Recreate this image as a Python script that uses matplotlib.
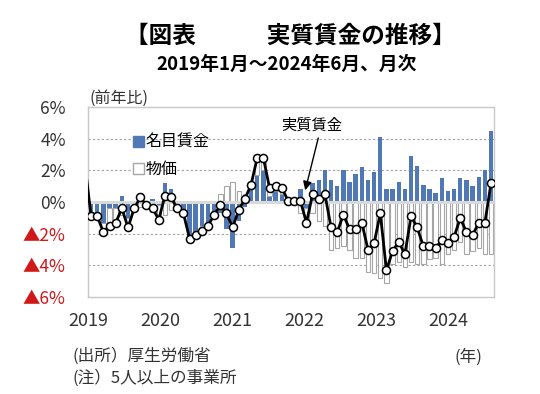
import numpy as np
import matplotlib
matplotlib.use('Agg')
import matplotlib.pyplot as plt
from matplotlib.patches import Patch

plt.rcParams['font.family'] = ['Noto Sans CJK JP', 'DejaVu Sans']

# monthly YoY change (%), Jan 2019 - Jun 2024
nominal = [-0.6, -0.6, -1.3, -0.4, -0.4, 0.4, -1.0, 0.0, 0.6, 0.1, 0.2, -0.2,
           1.2, 0.8, 0.1, -0.6, -2.2, -2.0, -1.5, -1.3, -0.8, -0.7, -1.7, -2.9,
           -1.2, -0.3, 0.9, 1.7, 2.0, 0.4, 0.7, 0.5, 0.3, 0.2, 0.8, -0.4,
           1.2, 1.4, 2.0, 1.4, 1.0, 2.0, 1.3, 1.8, 2.2, 1.4, 1.9, 4.1,
           0.8, 0.8, 1.3, 0.8, 2.9, 2.3, 1.1, 0.8, 0.6, 1.5, 0.7, 0.8,
           1.5, 1.4, 1.0, 1.6, 2.0, 4.5]
# prices shown with reversed sign (-CPI)
prices = [-0.3, -0.3, -0.6, -1.1, -0.9, -0.8, -0.6, -0.4, -0.3, -0.3, -0.6, -0.9,
          -0.8, -0.5, -0.5, -0.1, -0.1, -0.1, -0.3, -0.2, 0.0, 0.5, 1.0, 1.3,
          0.7, 0.5, 0.2, 1.1, 0.8, 0.5, 0.3, 0.4, -0.2, -0.1, -0.7, -0.9,
          -0.7, -1.2, -1.5, -3.0, -2.9, -2.8, -3.0, -3.5, -3.5, -4.4, -4.5, -4.8,
          -5.1, -3.9, -3.8, -4.1, -3.8, -3.9, -3.9, -3.6, -3.5, -3.9, -3.3, -3.0,
          -2.5, -3.3, -3.1, -2.9, -3.3, -3.3]
real = [-0.9, -0.9, -1.9, -1.5, -1.3, -0.4, -1.6, -0.4, 0.3, -0.2, -0.4, -1.1,
        0.4, 0.3, -0.4, -0.7, -2.3, -2.1, -1.8, -1.5, -0.8, -0.2, -0.7, -1.6,
        -0.5, 0.2, 1.1, 2.8, 2.8, 0.9, 1.0, 0.9, 0.1, 0.1, 0.1, -1.3,
        0.5, 0.2, 0.5, -1.6, -1.9, -0.8, -1.7, -1.7, -1.3, -3.0, -2.6, -0.7,
        -4.3, -3.1, -2.5, -3.3, -0.9, -1.6, -2.8, -2.8, -2.9, -2.4, -2.6, -2.2,
        -1.0, -1.9, -2.1, -1.3, -1.3, 1.2]
real_dec2018 = 2.4   # only its line segment shows at the left edge

years = ['2019', '2020', '2021', '2022', '2023', '2024']
y_ticks = [6, 4, 2, 0, -2, -4, -6]
y_labels = ['6%', '4%', '2%', '0%', '▲2%', '▲4%', '▲6%']

nominal = np.array(nominal)
prices = np.array(prices)
x = np.arange(len(nominal))

# stacked like an Excel column chart: same-sign values pile up
price_bottom = np.where(np.sign(prices) == np.sign(nominal), nominal, 0)

fig = plt.figure(figsize=(5.4, 3.94), dpi=100)
ax = fig.add_axes([0.163, 0.246, 0.752, 0.482])

for v in [4, 2, -2, -4]:
    ax.axhline(v, color='#a0a0a0', lw=0.8, ls=(0, (2, 2)), zorder=0)

blue = '#4f78b4'
ax.bar(x, nominal, width=0.72, color=blue, zorder=2)
ax.bar(x, prices, width=0.72, bottom=price_bottom, color='white',
       edgecolor='#a6a6a6', lw=0.8, zorder=2)
ax.axhline(0, color='#d9d9d9', lw=2.2, zorder=2.5)

# line includes Dec 2018 so it enters from the left edge, markers only from Jan 2019
ax.plot(np.r_[-1, x], np.r_[real_dec2018, real], color='black', lw=2, zorder=4)
ax.plot(x, real, ls='none', marker='o', ms=5.8, mfc='white', mec='black',
        mew=1.1, zorder=5)

ax.set_xlim(-0.5, 65.5)
ax.set_ylim(-6, 6)
ax.set_yticks(y_ticks)
ax.set_yticklabels(y_labels, fontsize=12.5)
for lab, v in zip(ax.get_yticklabels(), y_ticks):
    lab.set_color('#d01818' if v < 0 else '#333333')
ax.tick_params(axis='y', length=0, pad=16)
ax.set_xticks([])
for sp in ax.spines.values():
    sp.set_color('#c8c8c8')
    sp.set_linewidth(1)

# year labels under the axis
for k, yr in enumerate(years):
    ax.text(k * 11.7 - 0.5, -7.5, yr, ha='center', va='center',
            fontsize=13, color='#333333', clip_on=False)

handles = [Patch(facecolor=blue, edgecolor=blue),
           Patch(facecolor='white', edgecolor='#a6a6a6')]
ax.legend(handles, ['名目賃金', '物価'], loc='upper left',
          bbox_to_anchor=(0.075, 0.935), frameon=False, fontsize=11.5,
          labelspacing=0.65, handlelength=0.7, handleheight=0.7,
          handletextpad=0.1)

ax.annotate('実質賃金', xy=(34.8, 0.75), xytext=(35.9, 4.85),
            ha='center', va='center', fontsize=11,
            arrowprops=dict(arrowstyle='-|>', color='black', lw=1,
                            mutation_scale=13, shrinkA=1, shrinkB=0,
                            relpos=(0.62, 0)))

fig.text(290 / 540, 1 - 36 / 394, '【図表　　　実質賃金の推移】', ha='center',
         va='center', fontsize=17, fontweight='bold')
fig.text(287 / 540, 1 - 64 / 394, '2019年1月～2024年6月、月次', ha='center',
         va='center', fontsize=13.5, fontweight='bold')
fig.text(119 / 540, 1 - 98 / 394, '(前年比)', ha='center', va='center',
         fontsize=11.5, color='#333333')
fig.text(72 / 540, 1 - 356 / 394, '(出所）厚生労働省', ha='left', va='center',
         fontsize=12, color='#333333')
fig.text(72 / 540, 1 - 378 / 394, '(注）5人以上の事業所', ha='left',
         va='center', fontsize=12, color='#333333')
fig.text(468 / 540, 1 - 357 / 394, '(年)', ha='center', va='center',
         fontsize=12, color='#333333')

fig.savefig('out.png', dpi=100)
